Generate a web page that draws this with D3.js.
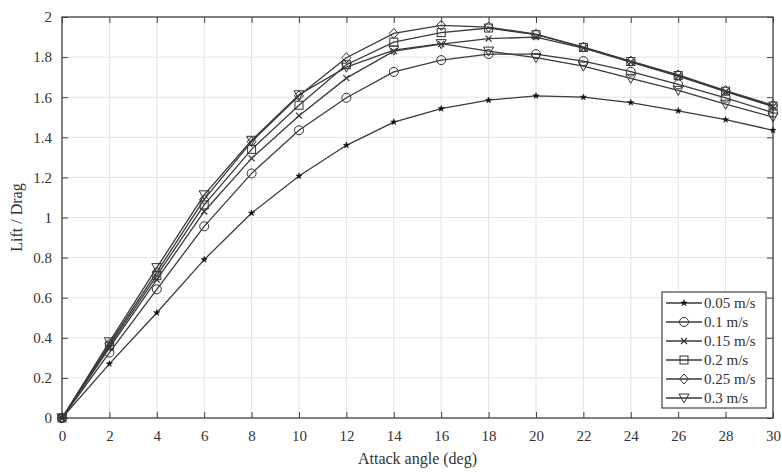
<!DOCTYPE html>
<html>
<head>
<meta charset="utf-8">
<script src="https://cdn.jsdelivr.net/npm/d3@7"></script>
<style>
  body { margin: 0; background: #fff; }
  text { font-family: "Liberation Serif", "DejaVu Serif", serif; fill: #333; }
</style>
</head>
<body>
<svg id="chart" width="782" height="472"></svg>
<script>
// attack angle (deg)
var angles = [0, 2, 4, 6, 8, 10, 12, 14, 16, 18, 20, 22, 24, 26, 28, 30];

// lift / drag per flow speed
var v005 = [0, 0.27, 0.525, 0.79, 1.022, 1.207, 1.36, 1.476, 1.543, 1.585, 1.607, 1.60, 1.573, 1.532, 1.488, 1.435];
var v010 = [0, 0.326, 0.642, 0.956, 1.22, 1.435, 1.597, 1.726, 1.785, 1.815, 1.815, 1.78, 1.727, 1.664, 1.597, 1.523];
var v015 = [0, 0.35, 0.69, 1.03, 1.295, 1.508, 1.695, 1.83, 1.865, 1.892, 1.90, 1.845, 1.775, 1.705, 1.628, 1.553];
var v020 = [0, 0.36, 0.71, 1.063, 1.34, 1.56, 1.762, 1.875, 1.922, 1.945, 1.912, 1.848, 1.778, 1.708, 1.63, 1.556];
var v025 = [0, 0.37, 0.728, 1.09, 1.378, 1.607, 1.797, 1.918, 1.958, 1.95, 1.914, 1.85, 1.78, 1.711, 1.633, 1.56];
var v030 = [0, 0.38, 0.75, 1.113, 1.385, 1.612, 1.75, 1.835, 1.867, 1.83, 1.797, 1.755, 1.694, 1.634, 1.565, 1.501];

var seriesNames = ["0.05 m/s", "0.1 m/s", "0.15 m/s", "0.2 m/s", "0.25 m/s", "0.3 m/s"];
var seriesValues = [v005, v010, v015, v020, v025, v030];
var markerTypes = ["star", "circle", "cross", "square", "diamond", "triangle"];

var xTicks = d3.range(0, 31, 2);
var yTicks = [0, 0.2, 0.4, 0.6, 0.8, 1, 1.2, 1.4, 1.6, 1.8, 2];

var svg = d3.select("svg");
var margin = { top: 17, right: 9, bottom: 54, left: 62 };
var width = +svg.attr("width") - margin.left - margin.right;
var height = +svg.attr("height") - margin.top - margin.bottom;

var x = d3.scaleLinear().domain([0, 30]).range([0, width]);
var y = d3.scaleLinear().domain([0, 2]).range([height, 0]);

var g = svg.append("g")
    .attr("transform", "translate(" + margin.left + "," + margin.top + ")");

// grid
g.append("g").selectAll("line").data(xTicks).enter().append("line")
    .attr("x1", function (d) { return x(d); }).attr("x2", function (d) { return x(d); })
    .attr("y1", 0).attr("y2", height)
    .attr("stroke", "#e3e3e3").attr("stroke-width", 1);
g.append("g").selectAll("line").data(yTicks).enter().append("line")
    .attr("y1", function (d) { return y(d); }).attr("y2", function (d) { return y(d); })
    .attr("x1", 0).attr("x2", width)
    .attr("stroke", "#e3e3e3").attr("stroke-width", 1);

// axes (ticks inside, MATLAB box style)
function styleAxis(sel) {
    sel.select(".domain").remove();
    sel.selectAll(".tick line").attr("stroke", "#444");
    sel.selectAll(".tick text").style("font-size", "15px").attr("fill", "#333");
}

g.append("g")
    .attr("transform", "translate(0," + height + ")")
    .call(d3.axisBottom(x).tickValues(xTicks).tickSize(-6).tickPadding(12).tickFormat(d3.format("d")))
    .call(styleAxis);
g.append("g")
    .call(d3.axisTop(x).tickValues(xTicks).tickSize(-6).tickFormat(""))
    .call(styleAxis);
g.append("g")
    .call(d3.axisLeft(y).tickValues(yTicks).tickSize(-6).tickPadding(10).tickFormat(function (d) { return d3.format("")(d); }))
    .call(styleAxis);
g.append("g")
    .attr("transform", "translate(" + width + ",0)")
    .call(d3.axisRight(y).tickValues(yTicks).tickSize(-6).tickFormat(""))
    .call(styleAxis);

g.append("rect")
    .attr("width", width).attr("height", height)
    .attr("fill", "none").attr("stroke", "#444").attr("stroke-width", 1.3);

// axis titles
g.append("text")
    .attr("x", width / 2).attr("y", height + 46)
    .attr("text-anchor", "middle")
    .style("font-size", "16px")
    .text("Attack angle (deg)");
g.append("text")
    .attr("transform", "rotate(-90)")
    .attr("x", -height / 2).attr("y", -40)
    .attr("text-anchor", "middle")
    .style("font-size", "16px")
    .text("Lift / Drag");

// markers
function drawMarker(sel, type) {
    var c = "#333";
    if (type === "circle") {
        sel.append("circle").attr("r", 4.5).attr("fill", "none").attr("stroke", c).attr("stroke-width", 1);
    } else if (type === "square") {
        sel.append("rect").attr("x", -4).attr("y", -4).attr("width", 8).attr("height", 8)
            .attr("fill", "none").attr("stroke", c).attr("stroke-width", 1);
    } else if (type === "diamond") {
        sel.append("path").attr("d", "M0,-5L4.5,0L0,5L-4.5,0Z").attr("fill", "none").attr("stroke", c).attr("stroke-width", 1);
    } else if (type === "triangle") {
        sel.append("path").attr("d", "M-5,-4L5,-4L0,5Z").attr("fill", "none").attr("stroke", c).attr("stroke-width", 1);
    } else if (type === "cross") {
        sel.append("path").attr("d", "M-3,-3L3,3M-3,3L3,-3").attr("stroke", c).attr("stroke-width", 1.2);
    } else if (type === "star") {
        sel.append("path").attr("d", d3.symbol(d3.symbolStar, 12)()).attr("fill", "#111").attr("stroke", "#111").attr("stroke-width", 0.5);
    }
}

var line = d3.line()
    .x(function (d, i) { return x(angles[i]); })
    .y(function (d) { return y(d); });

seriesValues.forEach(function (vals, k) {
    g.append("path")
        .datum(vals)
        .attr("d", line)
        .attr("fill", "none")
        .attr("stroke", "#3a3a3a")
        .attr("stroke-width", 1.3);
    vals.forEach(function (v, i) {
        var m = g.append("g").attr("transform", "translate(" + x(angles[i]) + "," + y(v) + ")");
        drawMarker(m, markerTypes[k]);
    });
});

// legend
var lgX = 600, lgY = 275, lgW = 104, rowH = 19;
var lg = g.append("g").attr("transform", "translate(" + lgX + "," + lgY + ")");
lg.append("rect")
    .attr("width", lgW).attr("height", rowH * seriesNames.length + 2)
    .attr("fill", "#fff").attr("stroke", "#444").attr("stroke-width", 1.2);
seriesNames.forEach(function (name, k) {
    var row = lg.append("g").attr("transform", "translate(0," + (rowH * k + 11) + ")");
    row.append("line").attr("x1", 4).attr("x2", 40).attr("y1", 0).attr("y2", 0)
        .attr("stroke", "#3a3a3a").attr("stroke-width", 1.3);
    drawMarker(row.append("g").attr("transform", "translate(22,0)"), markerTypes[k]);
    row.append("text").attr("x", 42).attr("y", 5).style("font-size", "15px").text(name);
});
</script>
</body>
</html>
